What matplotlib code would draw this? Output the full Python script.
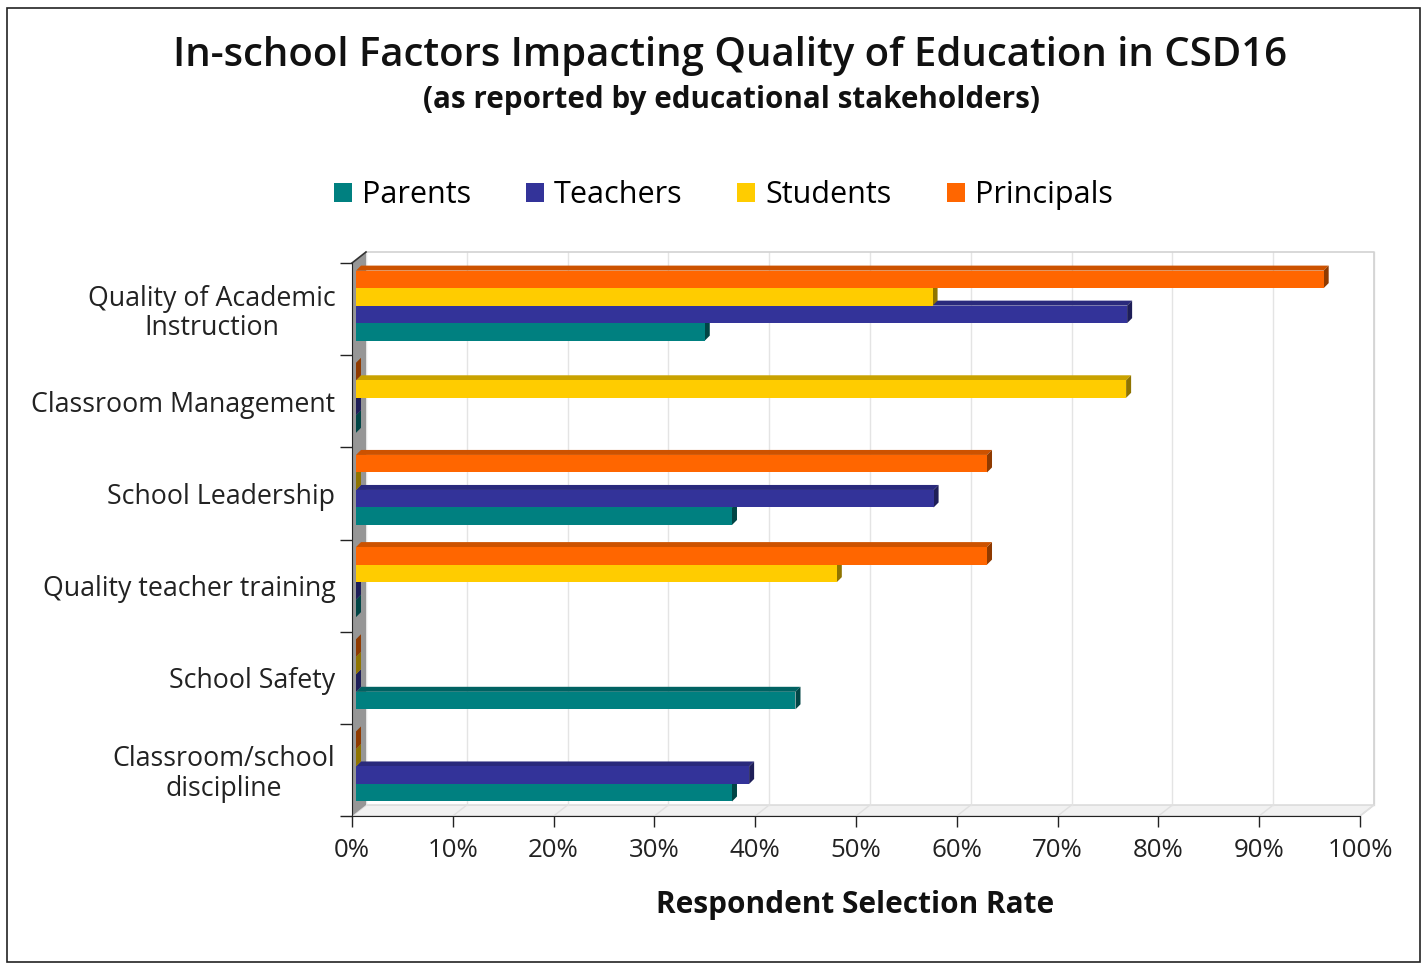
import matplotlib
matplotlib.use("Agg")
import matplotlib.pyplot as plt
from matplotlib.patches import Polygon, Rectangle
from matplotlib.lines import Line2D

plt.rcParams['font.family'] = ['Open Sans', 'DejaVu Sans']

# ---------------- data ----------------
categories = ["Quality of Academic\nInstruction", "Classroom Management",
              "School Leadership", "Quality teacher training",
              "School Safety", "Classroom/school\ndiscipline"]
series_names = ["Parents", "Teachers", "Students", "Principals"]
parents = [34.6, 0, 37.3, 0, 43.6, 37.3]
teachers = [76.5, 0, 57.3, 0, 0, 39.0]
students = [57.2, 76.4, 0, 47.7, 0, 0]
principals = [96.0, 0, 62.6, 62.6, 0, 0]
xticks = [0, 10, 20, 30, 40, 50, 60, 70, 80, 90, 100]
xtick_labels = [f"{t}%" for t in xticks]

series_values = [parents, teachers, students, principals]
front_colors = ["#008080", "#333399", "#FFCC00", "#FF6600"]
top_colors = ["#006262", "#2a2a7c", "#c9a200", "#cc5200"]
side_colors = ["#004545", "#1e1e58", "#8f7400", "#8f3a00"]

# ---------------- figure ----------------
W, H = 1428, 965
fig = plt.figure(figsize=(W / 100, H / 100), dpi=100)
renderer = fig.canvas.get_renderer()

def fit(txt, target_px):
    w = txt.get_window_extent(renderer).width
    txt.set_fontsize(txt.get_fontsize() * target_px / w)
    return txt.get_fontsize()

ax_l, ax_r, ax_t, ax_b = 352, 1360, 263, 816
ax = fig.add_axes([ax_l / W, 1 - ax_b / H, (ax_r - ax_l) / W, (ax_b - ax_t) / H])
ax.set_xlim(0, 100)
ax.set_ylim(len(categories), 0)
ax.patch.set_alpha(0)

px_x = (ax_r - ax_l) / 100.0
px_y = (ax_b - ax_t) / len(categories)
def dx(p):
    return p / px_x
def dy(p):  # upward pixels -> data (inverted y)
    return -p / px_y

# wall / floor depth
WX, WY = 14, 11
ncat = len(categories)
for t in xticks:
    ax.add_line(Line2D([t + dx(WX)] * 2, [dy(WY), ncat + dy(WY)], color="#e4e4e4", lw=1, zorder=0.5, clip_on=False))
    ax.add_line(Line2D([t, t + dx(WX)], [ncat, ncat + dy(WY)], color="#e0e0e0", lw=1, zorder=0.6, clip_on=False))
ax.add_line(Line2D([dx(WX), 100 + dx(WX), 100 + dx(WX)], [dy(WY), dy(WY), ncat + dy(WY)],
                   color="#d2d2d2", lw=1.2, zorder=0.5, clip_on=False))
ax.add_patch(Polygon([(0, ncat), (100, ncat), (100 + dx(WX), ncat + dy(WY)), (dx(WX), ncat + dy(WY))],
                     closed=True, facecolor="#f1f1f1", edgecolor="#d6d6d6", lw=1, zorder=0.4, clip_on=False))
ax.add_patch(Polygon([(0, 0), (0, ncat), (dx(WX), ncat + dy(WY)), (dx(WX), dy(WY))],
                     closed=True, facecolor="#969696", edgecolor="none", zorder=1, clip_on=False))
ax.add_line(Line2D([0, dx(WX)], [0, dy(WY)], color="#333333", lw=1.2, zorder=1.1, clip_on=False))

# ---------------- bars ----------------
BX, BY = 4, 3      # front-face offset
DX, DY = 5, 5      # bar depth
bh = 0.19
g0 = 0.115
handles = []
for j in range(len(series_names)):
    vals = series_values[j]
    slot = len(series_names) - 1 - j
    z = 3 + j * 0.1
    tops = [i + g0 + slot * bh + dy(BY) for i in range(ncat)]
    bc = ax.barh([t + bh / 2 for t in tops], vals, height=bh, left=dx(BX), color=front_colors[j],
                 edgecolor="none", zorder=z + 0.05, label=series_names[j])
    handles.append(bc)
    for i, v in enumerate(vals):
        x0 = dx(BX)
        x1 = x0 + v
        yt = tops[i]
        yb = yt + bh
        ax.add_patch(Polygon([(x0, yt), (x1, yt), (x1 + dx(DX), yt + dy(DY)), (x0 + dx(DX), yt + dy(DY))],
                             closed=True, facecolor=top_colors[j], edgecolor="none", zorder=z, clip_on=False))
        ax.add_patch(Polygon([(x1, yt), (x1 + dx(DX), yt + dy(DY)), (x1 + dx(DX), yb + dy(DY)), (x1, yb)],
                             closed=True, facecolor=side_colors[j], edgecolor="none", zorder=z + 0.02, clip_on=False))

# ---------------- axes styling ----------------
for s in ["top", "right"]:
    ax.spines[s].set_visible(False)
ax.spines["left"].set_color("#222222")
ax.spines["bottom"].set_color("#222222")
ax.spines["left"].set_zorder(2)
ax.set_xticks(xticks)
ax.set_yticks([i + 0.5 for i in range(ncat)])
ax.set_yticks(list(range(ncat + 1)), minor=True)

# tick label sizes fitted to reference widths
probe = fig.text(0, 0, "Classroom Management", fontsize=16)
ysize = fit(probe, 305)
probe.set_text("100%")
probe.set_fontsize(16)
xsize = fit(probe, 66)
probe.remove()

ax.set_xticklabels(xtick_labels, fontsize=xsize, color="#222222")
ax.tick_params(axis="x", length=8, width=1, color="#222222", pad=8)
ax.set_yticklabels(categories, fontsize=ysize, color="#222222", multialignment="center", linespacing=1.08)
ax.tick_params(axis="y", which="major", length=0, pad=12)
ax.tick_params(axis="y", which="minor", length=9, width=1, color="#222222")
xl = ax.set_xlabel("Respondent Selection Rate", fontsize=18, fontweight="bold", color="#111111")
fit(xl, 399)
ax.xaxis.set_label_coords((855 - ax_l) / (ax_r - ax_l), -(905 - ax_b) / (ax_b - ax_t))
xl.set_va("center")

# ---------------- titles & legend ----------------
t1 = fig.text(730 / W, 1 - 56 / H, "In-school Factors Impacting Quality of Education in CSD16",
              ha="center", va="center", fontsize=26, fontweight="semibold", color="#111111")
fit(t1, 1115)
t2 = fig.text(731 / W, 1 - 100 / H, "(as reported by educational stakeholders)",
              ha="center", va="center", fontsize=18, fontweight="bold", color="#111111")
fit(t2, 618)

probe = fig.text(0, 0, "Parents", fontsize=18)
lsize = fit(probe, 109)
probe.remove()
lpx = lsize * 100 / 72
fig.legend(handles=handles, labels=series_names, loc="center", bbox_to_anchor=(723 / W, 1 - 195 / H), ncol=4,
           frameon=False, fontsize=lsize, handlelength=18 / lpx, handleheight=18 / lpx,
           handletextpad=10 / lpx, columnspacing=55 / lpx, borderpad=0)

# figure border
fig.patches.append(Rectangle((7 / W, 1 - 962 / H), (1420 - 7) / W, (962 - 8) / H, transform=fig.transFigure,
                             fill=False, edgecolor="#222222", lw=1.2))

fig.savefig("out.png", dpi=100, facecolor="white")
